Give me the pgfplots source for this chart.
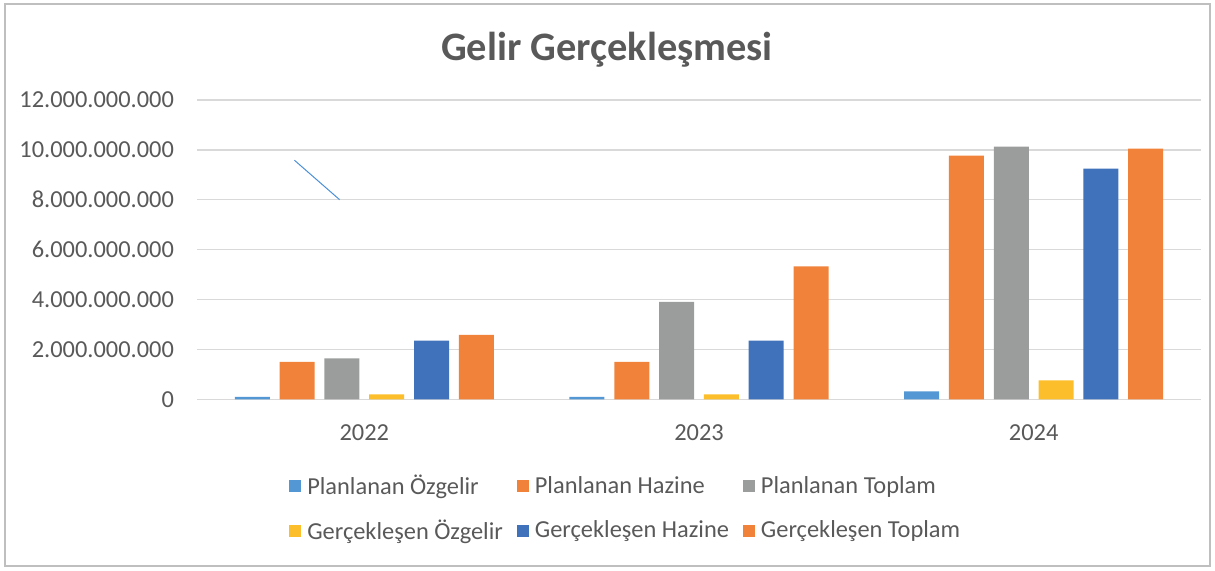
\documentclass[border=0pt]{standalone}
\usepackage{pgfplots}
\pgfplotsset{compat=1.18}
\usepackage{fontspec}
\setmainfont{Carlito}
\definecolor{cPO}{HTML}{5398D4}
\definecolor{cPH}{HTML}{F0823A}
\definecolor{cPT}{HTML}{9B9D9D}
\definecolor{cGO}{HTML}{FDBE2B}
\definecolor{cGH}{HTML}{3F72BA}
\definecolor{cGT}{HTML}{F0823A}
\definecolor{gridc}{HTML}{D9D9D9}
\definecolor{txt}{HTML}{595959}
\definecolor{framec}{HTML}{BFBFBF}
\definecolor{strayc}{HTML}{4A8FD8}
\pgfplotstableread{
x PO PH PT GO GH GT
0 100000000 1500000000 1640000000 200000000 2350000000 2580000000
1 100000000 1500000000 3900000000 200000000 2350000000 5330000000
2 320000000 9760000000 10120000000 760000000 9240000000 10040000000
}\datatable
\begin{document}
\begin{tikzpicture}
\useasboundingbox (0,0) rectangle (607.5pt,285pt);
\draw[framec, line width=0.6pt] (2.5pt,2pt) rectangle (605pt,283pt);
\node[font=\bfseries\fontsize{20.2}{24}\selectfont, text=txt] at (303.5pt,260pt) {Gelir Gerçekleşmesi};
\begin{axis}[
  at={(98.5pt,85.35pt)}, anchor=south west,
  scale only axis, width=502pt, height=149.75pt,
  xmin=-0.5, xmax=2.5, ymin=0, ymax=12000000000,
  scaled y ticks=false,
  axis line style={draw=none},
  major tick length=0pt,
  xtick={0,1,2}, xticklabels={2022,2023,2024},
  ytick={0,2000000000,4000000000,6000000000,8000000000,10000000000,12000000000},
  yticklabels={0,2.000.000.000,4.000.000.000,6.000.000.000,8.000.000.000,10.000.000.000,12.000.000.000},
  ymajorgrids, grid style={gridc, line width=0.8pt},
  tick label style={font=\fontsize{12.2}{14}\selectfont, text=txt},
  yticklabel style={xshift=-8pt},
  xticklabel style={yshift=-9pt},
  legend columns=3,
  legend style={draw=none, fill=none, font=\fontsize{12.2}{14}\selectfont, text=txt,
    at={(0.427,-0.225)}, anchor=north, column sep=2pt, row sep=7pt,
    nodes={inner xsep=1pt},
    /tikz/every even column/.append style={column sep=6pt}},
  legend cell align=left,
  clip=false,
]
\addplot[ybar, bar width=0.1046, bar shift=-0.3347, fill=cPO, draw=none,
  legend image code/.code={\fill[cPO] (0pt,-3pt) rectangle (6pt,3pt);}] table[x=x,y=PO]{\datatable};
\addlegendentry{Planlanan Özgelir}
\addplot[ybar, bar width=0.1046, bar shift=-0.2008, fill=cPH, draw=none,
  legend image code/.code={\fill[cPH] (0pt,-3pt) rectangle (6pt,3pt);}] table[x=x,y=PH]{\datatable};
\addlegendentry{Planlanan Hazine}
\addplot[ybar, bar width=0.1046, bar shift=-0.0669, fill=cPT, draw=none,
  legend image code/.code={\fill[cPT] (0pt,-3pt) rectangle (6pt,3pt);}] table[x=x,y=PT]{\datatable};
\addlegendentry{Planlanan Toplam}
\addplot[ybar, bar width=0.1046, bar shift=0.0669, fill=cGO, draw=none,
  legend image code/.code={\fill[cGO] (0pt,-3pt) rectangle (6pt,3pt);}] table[x=x,y=GO]{\datatable};
\addlegendentry{Gerçekleşen Özgelir}
\addplot[ybar, bar width=0.1046, bar shift=0.2008, fill=cGH, draw=none,
  legend image code/.code={\fill[cGH] (0pt,-3pt) rectangle (6pt,3pt);}] table[x=x,y=GH]{\datatable};
\addlegendentry{Gerçekleşen Hazine}
\addplot[ybar, bar width=0.1046, bar shift=0.3347, fill=cGT, draw=none,
  legend image code/.code={\fill[cGT] (0pt,-3pt) rectangle (6pt,3pt);}] table[x=x,y=GT]{\datatable};
\addlegendentry{Gerçekleşen Toplam}
\addplot[strayc, line width=0.5pt, forget plot] coordinates {(-0.209,9580000000) (-0.074,8000000000)};
\end{axis}
\end{tikzpicture}
\end{document}
